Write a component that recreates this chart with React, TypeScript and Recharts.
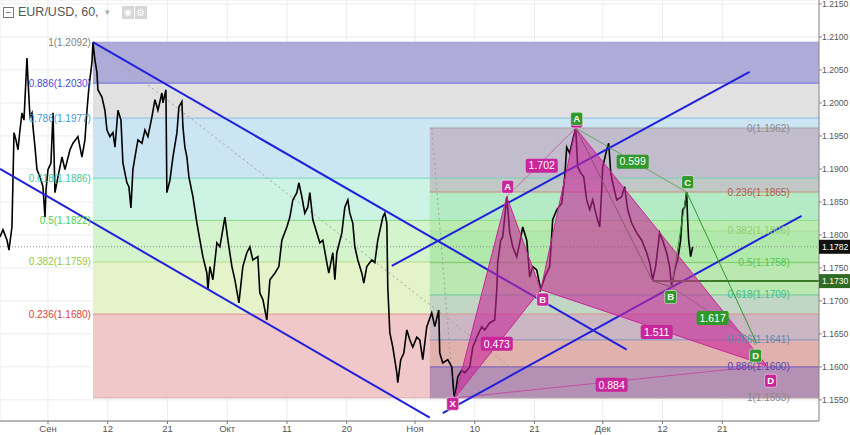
import React from 'react';
import { ComposedChart, Line, Area, XAxis, YAxis, CartesianGrid } from 'recharts';

// x = trading days since 1 Sep, y = EUR/USD price
const X_DOMAIN: [number, number] = [-5.62, 90.33];
const Y_DOMAIN: [number, number] = [1.1518, 1.2156];
const X_TICKS = [0, 7, 14, 21, 28, 35, 43, 50, 57, 65, 72, 79];
const X_LABELS = ['Сен', '12', '21', 'Окт', '11', '20', 'Ноя', '10', '21', 'Дек', '12', '21'];
const Y_TICKS = [1.155, 1.16, 1.165, 1.17, 1.175, 1.18, 1.185, 1.19, 1.195, 1.2, 1.205, 1.21, 1.215];

// hourly close path at its swings
const PRICE: [number, number][] = [
  [-5.62, 1.1797], [-5.27, 1.1808], [-4.8, 1.1792], [-4.57, 1.1777], [-4.22, 1.1812], [-4.1, 1.1883],
  [-3.98, 1.1955], [-3.75, 1.1944], [-3.51, 1.1929], [-3.28, 1.1959], [-3.04, 1.1985], [-2.81, 1.1974],
  [-2.46, 1.2068], [-2.34, 1.2035], [-2.11, 1.1979], [-1.87, 1.1985], [-1.76, 1.1964], [-1.52, 1.1933],
  [-1.29, 1.1899], [-0.94, 1.1888], [-0.59, 1.1873], [-0.35, 1.1827], [-0.23, 1.1868], [0, 1.1899],
  [0.35, 1.1909], [0.59, 1.1985], [0.82, 1.1864], [1.17, 1.1888], [1.64, 1.1918], [1.99, 1.1899],
  [2.58, 1.1929], [2.93, 1.1939], [3.51, 1.1949], [3.98, 1.1918], [4.33, 1.1944], [4.57, 1.1989],
  [4.8, 1.2024], [5.15, 1.2061], [5.27, 1.2092], [5.5, 1.2065], [5.74, 1.2046], [5.85, 1.202],
  [6.32, 1.2009], [6.67, 1.1989], [6.91, 1.1959], [7.26, 1.1949], [7.61, 1.1955], [7.85, 1.1933],
  [8.2, 1.1989], [8.55, 1.1974], [8.78, 1.1909], [9.25, 1.1879], [9.48, 1.1873], [9.72, 1.1841],
  [9.95, 1.1899], [10.19, 1.1918], [10.54, 1.1944], [11.01, 1.1939], [11.36, 1.1959], [11.71, 1.1949],
  [12.18, 1.1979], [12.53, 1.2005], [12.88, 1.1989], [13.35, 1.2015], [13.47, 1.2], [13.82, 1.202],
  [13.93, 1.1864], [14.29, 1.1883], [14.64, 1.1918], [15.11, 1.1955], [15.34, 1.1994], [15.69, 1.2002],
  [15.81, 1.1964], [16.04, 1.1933], [16.28, 1.1918], [16.51, 1.1888], [16.98, 1.1858], [17.45, 1.1818],
  [17.8, 1.1792], [18.15, 1.1767], [18.62, 1.1742], [18.74, 1.1717], [18.97, 1.1752], [19.32, 1.1732],
  [19.79, 1.1788], [20.14, 1.1782], [20.73, 1.1827], [21.08, 1.1792], [21.55, 1.1752], [21.9, 1.1732],
  [22.37, 1.1697], [22.83, 1.1752], [23.3, 1.1773], [23.65, 1.1782], [24.0, 1.1762], [24.59, 1.1767],
  [24.82, 1.1712], [25.18, 1.1702], [25.64, 1.1671], [26.0, 1.1732], [26.58, 1.1742], [27.05, 1.1752],
  [27.4, 1.1792], [27.99, 1.1812], [28.34, 1.1827], [28.69, 1.1853], [29.16, 1.1864], [29.39, 1.1879],
  [29.74, 1.1858], [30.09, 1.1833], [30.44, 1.1842], [30.68, 1.1864], [31.03, 1.1823], [31.5, 1.1803],
  [31.85, 1.1788], [32.2, 1.1792], [32.67, 1.1758], [32.9, 1.1742], [33.37, 1.1773], [33.61, 1.1732],
  [33.84, 1.1773], [34.43, 1.1803], [34.78, 1.1842], [35.13, 1.1853], [35.36, 1.1833], [35.71, 1.1818],
  [35.95, 1.1782], [36.3, 1.1762], [36.77, 1.1742], [37.0, 1.1727], [37.35, 1.1752], [37.94, 1.1762],
  [38.29, 1.1758], [38.64, 1.1792], [39.23, 1.1827], [39.46, 1.1833], [39.7, 1.1818], [39.81, 1.1721],
  [40.05, 1.1652], [40.4, 1.163], [40.87, 1.1591], [40.98, 1.1576], [41.33, 1.1611], [41.69, 1.1621],
  [42.04, 1.1656], [42.39, 1.1641], [42.74, 1.163], [43.21, 1.1645], [43.56, 1.1641], [43.91, 1.1611],
  [44.38, 1.1661], [44.96, 1.1682], [45.32, 1.1661], [45.78, 1.1686], [45.9, 1.1621], [46.25, 1.1606],
  [46.84, 1.1611], [47.31, 1.16], [47.54, 1.1561], [47.66, 1.1553], [48.01, 1.1585], [48.48, 1.1595],
  [48.83, 1.1591], [49.41, 1.16], [49.77, 1.163], [50.23, 1.1645], [50.82, 1.1661], [51.17, 1.1656],
  [51.76, 1.1667], [52.34, 1.1671], [52.58, 1.1717], [52.69, 1.1758], [53.04, 1.1792], [53.28, 1.1797],
  [53.63, 1.1842], [53.75, 1.1858], [54.1, 1.1803], [54.45, 1.1782], [54.92, 1.1767], [55.27, 1.1788],
  [55.62, 1.1812], [56.09, 1.1792], [56.44, 1.1736], [56.79, 1.1752], [57.26, 1.1747], [57.73, 1.1717],
  [58.2, 1.1736], [58.78, 1.1752], [59.13, 1.1823], [59.6, 1.1838], [60.19, 1.1848], [60.54, 1.1888],
  [60.77, 1.1933], [61.12, 1.1924], [61.48, 1.1944], [61.83, 1.1962], [62.06, 1.1903], [62.41, 1.1894],
  [62.76, 1.1888], [63.11, 1.1853], [63.47, 1.1838], [63.82, 1.1853], [64.29, 1.1827], [64.64, 1.1812],
  [64.87, 1.1868], [64.99, 1.1903], [65.46, 1.1929], [65.69, 1.1939], [65.93, 1.1894], [66.16, 1.1879],
  [66.63, 1.1853], [67.21, 1.1858], [67.56, 1.1873], [67.92, 1.1838], [68.38, 1.1818], [68.97, 1.1803],
  [69.56, 1.1792], [70.14, 1.1773], [70.49, 1.1758], [70.84, 1.1732], [71.19, 1.1752], [71.66, 1.1803],
  [72.01, 1.1792], [72.48, 1.1773], [72.83, 1.1752], [73.07, 1.1721], [73.42, 1.1747], [73.77, 1.1762],
  [74.12, 1.1792], [74.36, 1.1838], [74.59, 1.1842], [74.82, 1.1865], [74.94, 1.1823], [75.06, 1.1792],
  [75.29, 1.1767], [75.53, 1.1782],
];

const LAST_PRICE = 1.1782;
const SUPPORT_PRICE = 1.173;
const SUPPORT_START = 70.84;

// Fib retracement 1: 1.2092 high down to 1.1553 low
const FIB1_START = 5.27;
const FIB1_LEVELS = [1.2092, 1.203, 1.1977, 1.1886, 1.1822, 1.1759, 1.168, 1.1553];
const FIB1_RATIOS = ['1', '0.886', '0.786', '0.618', '0.5', '0.382', '0.236', ''];

// Fib retracement 2: 1.1962 high down to 1.1553 low
const FIB2_START = 44.73;
const FIB2_LABEL_AT = 86.9;
const FIB2_LEVELS = [1.1962, 1.1865, 1.1806, 1.1758, 1.1709, 1.1641, 1.16, 1.1553];
const FIB2_RATIOS = ['0', '0.236', '0.382', '0.5', '0.618', '0.786', '0.886', '1'];

// channel lines [x1, y1, x2, y2]
const TRENDS: [number, number, number, number][] = [
  [5.27, 1.2092, 67.8, 1.1626],
  [-5.62, 1.19, 44.73, 1.1523],
  [40.28, 1.1753, 82.2, 1.2047],
  [46.25, 1.153, 88.29, 1.1829],
];
const GUIDES: [number, number, number, number][] = [
  [5.27, 1.2092, 58.78, 1.1553],
  [44.96, 1.1962, 47.54, 1.1553],
];

// XABCD pattern (pink); the C tag sits under the green A tag
const XABCD_NAMES = ['X', 'A', 'B', '', 'D'];
const XABCD_X = [47.66, 53.75, 57.73, 61.83, 84.19];
const XABCD_Y = [1.1553, 1.1858, 1.1717, 1.1962, 1.1602];
const XABCD_TAG_X = [47.42, 53.86, 57.96, 61.94, 84.66];
const XABCD_TAG_Y = [1.1544, 1.1873, 1.1702, 1.1972, 1.1579];
const XABCD_RATIOS = ['1.702', '0.473', '1.511', '0.884'];
const XABCD_RATIO_X = [57.85, 52.58, 71.31, 66.04];
const XABCD_RATIO_Y = [1.1905, 1.1635, 1.1653, 1.1573];

// ABCD pattern (green)
const ABCD_NAMES = ['A', 'B', 'C', 'D'];
const ABCD_X = [61.83, 73.07, 74.82, 83.02];
const ABCD_Y = [1.1962, 1.1721, 1.1865, 1.1636];
const ABCD_TAG_X = [61.94, 72.95, 74.94, 82.9];
const ABCD_TAG_Y = [1.1976, 1.1706, 1.188, 1.1617];
const ABCD_RATIOS = ['0.599', '1.617'];
const ABCD_RATIO_X = [68.5, 77.87];
const ABCD_RATIO_Y = [1.1911, 1.1674];

// styles
const FONT = '"Liberation Sans", Arial, sans-serif';
const FIB1_FILLS = ['#afabd9', '#e1e1e1', '#cce5f2', '#cdf3e5', '#d3f4cc', '#e5f3cb', '#f1c8c9'];
const FIB1_LINES = ['#a09cd4', '#6a66dc', '#86c2e6', '#76d6b6', '#86dc86', '#b4dc86', '#e0928c', '#d8b0b0'];
const FIB1_TEXT = ['#7f7f7f', '#4a46d8', '#3c98da', '#42c89a', '#4cd24c', '#98c83a', '#d9423a', '#999'];
const FIB2_FILLS = [
  'rgba(170,110,130,0.33)', 'rgba(110,210,100,0.25)', 'rgba(90,205,90,0.28)', 'rgba(80,200,110,0.28)',
  'rgba(100,140,180,0.28)', 'rgba(180,120,100,0.28)', 'rgba(90,60,150,0.40)',
];
const FIB2_LINES = ['#a8a0a8', '#c89080', '#a8dc98', '#78cc78', '#6cc8a0', '#7c98c0', '#7058c0', '#a898a8'];
const FIB2_TEXT = ['#8a8a8a', '#b06050', '#8ed070', '#50c850', '#40c090', '#6088b0', '#5a40b0', '#8a8a8a'];
const BLUE = '#2020dc';
const PINK = '#c8269a';
const GREEN = '#2f9a2a';

type Pt = { d: number; p: number; t?: string; k?: string; c?: string };

const seg = (s: [number, number, number, number]): Pt[] => [
  { d: s[0], p: s[1] },
  { d: s[2], p: s[3] },
];

const polygonDot = (fill: string, opacity: number) => (props: any) => {
  const { index, points } = props;
  if (index !== 0 || !points) return <g key={`pg-${index}`} />;
  return (
    <polygon
      key="pg"
      points={points.map((q: any) => `${q.x},${q.y}`).join(' ')}
      fill={fill}
      fillOpacity={opacity}
      stroke={fill}
      strokeWidth={1}
    />
  );
};

const renderLabel = (props: any) => {
  const { cx, cy, payload, index } = props;
  const key = `lb-${index}`;
  if (cx == null || cy == null) return <g key={key} />;
  const { t, k, c } = payload as Pt;
  if (k === 'fib1') {
    return (
      <text key={key} x={cx - 2} y={cy + 3.5} textAnchor="end" fontSize={10} fill={c} fontFamily={FONT}>
        {t}
      </text>
    );
  }
  if (k === 'fib2') {
    return (
      <text key={key} x={cx} y={cy + 3.5} textAnchor="end" fontSize={10} fill={c} fontFamily={FONT}>
        {t}
      </text>
    );
  }
  if (k === 'tag') {
    return (
      <g key={key}>
        <rect x={cx - 6} y={cy - 6.5} width={12} height={13} rx={2} fill={c} stroke="#fff" strokeOpacity={0.5} />
        {t ? (
          <text x={cx} y={cy + 3.5} textAnchor="middle" fontSize={9.5} fontWeight="bold" fill="#fff" fontFamily={FONT}>
            {t}
          </text>
        ) : null}
      </g>
    );
  }
  if (k === 'ratio') {
    return (
      <g key={key}>
        <rect x={cx - 16} y={cy - 7} width={32} height={14} rx={2} fill={c} />
        <text x={cx} y={cy + 3.8} textAnchor="middle" fontSize={10.5} fill="#fff" fontFamily={FONT}>
          {t}
        </text>
      </g>
    );
  }
  // price badge on the axis
  return (
    <g key={key}>
      <rect x={cx} y={cy - 7} width={31} height={14} fill={c} />
      <text x={cx + 3} y={cy + 3.2} fontSize={8.6} fill="#fff" fontFamily={FONT}>
        {t}
      </text>
    </g>
  );
};

const XTick = (props: any) => {
  const { x, y, payload } = props;
  const i = X_TICKS.indexOf(payload.value);
  return (
    <text x={x} y={y + 8} textAnchor="middle" fontSize={9.5} fill="#555" fontFamily={FONT}>
      {X_LABELS[i]}
    </text>
  );
};

const YTick = (props: any) => {
  const { x, y, payload } = props;
  return (
    <text x={x} y={y + 3.2} fontSize={8.6} fill="#555" fontFamily={FONT}>
      {Number(payload.value).toFixed(4)}
    </text>
  );
};

export default function App() {
  const xMax = X_DOMAIN[1];
  const price: Pt[] = PRICE.map(([d, p]) => ({ d, p }));

  const fib1Bands = FIB1_FILLS.map((fill, i) => ({
    fill,
    data: [
      { d: FIB1_START, r: [FIB1_LEVELS[i + 1], FIB1_LEVELS[i]] },
      { d: xMax, r: [FIB1_LEVELS[i + 1], FIB1_LEVELS[i]] },
    ],
  }));
  const fib2Bands = FIB2_FILLS.map((fill, i) => ({
    fill,
    data: [
      { d: FIB2_START, r: [FIB2_LEVELS[i + 1], FIB2_LEVELS[i]] },
      { d: xMax, r: [FIB2_LEVELS[i + 1], FIB2_LEVELS[i]] },
    ],
  }));

  const pinkPts: Pt[] = XABCD_X.map((d, i) => ({ d, p: XABCD_Y[i] }));
  const [pX, pA, pB, pC, pD] = pinkPts;
  const greenPts: Pt[] = ABCD_X.map((d, i) => ({ d, p: ABCD_Y[i] }));
  const [gA, gB, gC, gD] = greenPts;
  const greenLegLow: Pt = { d: SUPPORT_START, p: SUPPORT_PRICE };

  const labels: Pt[] = [
    ...FIB1_LEVELS.map((lv, i) => ({
      d: FIB1_START,
      p: lv,
      t: FIB1_RATIOS[i] ? `${FIB1_RATIOS[i]}(${lv.toFixed(4)})` : '',
      k: 'fib1',
      c: FIB1_TEXT[i],
    })),
    ...FIB2_LEVELS.map((lv, i) => ({
      d: FIB2_LABEL_AT,
      p: lv,
      t: `${FIB2_RATIOS[i]}(${lv.toFixed(4)})`,
      k: 'fib2',
      c: FIB2_TEXT[i],
    })),
    ...XABCD_RATIOS.map((t, i) => ({ d: XABCD_RATIO_X[i], p: XABCD_RATIO_Y[i], t, k: 'ratio', c: PINK })),
    ...ABCD_RATIOS.map((t, i) => ({ d: ABCD_RATIO_X[i], p: ABCD_RATIO_Y[i], t, k: 'ratio', c: GREEN })),
    ...XABCD_NAMES.map((t, i) => ({ d: XABCD_TAG_X[i], p: XABCD_TAG_Y[i], t, k: 'tag', c: PINK })),
    ...ABCD_NAMES.map((t, i) => ({ d: ABCD_TAG_X[i], p: ABCD_TAG_Y[i], t, k: 'tag', c: GREEN })),
    { d: xMax, p: LAST_PRICE, t: LAST_PRICE.toFixed(4), k: 'badge', c: '#111' },
    { d: xMax, p: SUPPORT_PRICE, t: SUPPORT_PRICE.toFixed(4), k: 'badge', c: '#2f6b22' },
  ];

  const common = { isAnimationActive: false, activeDot: false, legendType: 'none' as const };

  return (
    <div style={{ position: 'absolute', left: 0, top: 0, width: 850, height: 435, background: '#fff', fontFamily: FONT }}>
      <ComposedChart width={850} height={435} margin={{ top: 0, right: 0, bottom: 0, left: 0 }}>
        <CartesianGrid stroke="#ececec" />
        <XAxis
          type="number"
          dataKey="d"
          domain={X_DOMAIN}
          ticks={X_TICKS}
          interval={0}
          height={14}
          tickSize={3}
          tickMargin={0}
          tick={XTick}
          stroke="#777"
        />
        <YAxis
          type="number"
          orientation="right"
          domain={Y_DOMAIN}
          ticks={Y_TICKS}
          interval={0}
          width={31}
          tickSize={3}
          tickMargin={0}
          tick={YTick}
          stroke="#888"
        />

        {fib1Bands.map((b, i) => (
          <Area key={`f1b${i}`} data={b.data} dataKey="r" type="linear" stroke="none" fill={b.fill} fillOpacity={1} dot={false} {...common} />
        ))}
        {fib2Bands.map((b, i) => (
          <Area key={`f2b${i}`} data={b.data} dataKey="r" type="linear" stroke="none" fill={b.fill} fillOpacity={1} dot={false} {...common} />
        ))}

        {FIB1_LEVELS.map((lv, i) => (
          <Line key={`f1l${i}`} data={[{ d: FIB1_START, p: lv }, { d: xMax, p: lv }]} dataKey="p" stroke={FIB1_LINES[i]} strokeWidth={1} dot={false} {...common} />
        ))}
        {FIB2_LEVELS.map((lv, i) => (
          <Line key={`f2l${i}`} data={[{ d: FIB2_START, p: lv }, { d: xMax, p: lv }]} dataKey="p" stroke={FIB2_LINES[i]} strokeWidth={1} dot={false} {...common} />
        ))}

        <Line data={[{ d: X_DOMAIN[0], p: LAST_PRICE }, { d: xMax, p: LAST_PRICE }]} dataKey="p" stroke="#8a8a8a" strokeDasharray="1 2" strokeWidth={1} dot={false} {...common} />

        {GUIDES.map((g, i) => (
          <Line key={`g${i}`} data={seg(g)} dataKey="p" stroke="#a0a0a0" strokeDasharray="2 3" strokeWidth={1} dot={false} {...common} />
        ))}

        {/* pink harmonic triangles */}
        <Line data={[pX, pA, pB]} dataKey="p" stroke="none" dot={polygonDot(PINK, 0.6)} {...common} />
        <Line data={[pB, pC, pD]} dataKey="p" stroke="none" dot={polygonDot(PINK, 0.6)} {...common} />

        <Line data={price} dataKey="p" stroke="#000" strokeWidth={1.6} dot={false} {...common} />

        {/* pink ratio lines */}
        <Line data={[pA, pC]} dataKey="p" stroke={PINK} strokeOpacity={0.6} strokeWidth={1} dot={false} {...common} />
        <Line data={[pX, pD]} dataKey="p" stroke={PINK} strokeOpacity={0.6} strokeWidth={1} dot={false} {...common} />

        {TRENDS.map((s, i) => (
          <Line key={`t${i}`} data={seg(s)} dataKey="p" stroke={BLUE} strokeWidth={2} dot={false} {...common} />
        ))}

        {/* green ABCD */}
        <Line data={[gA, greenLegLow, gB, gC, gD]} dataKey="p" stroke={GREEN} strokeWidth={1} dot={false} {...common} />
        <Line data={[gA, gC]} dataKey="p" stroke="#5c9a50" strokeOpacity={0.8} strokeWidth={1} dot={false} {...common} />
        <Line data={[gB, gD]} dataKey="p" stroke="#5c9a50" strokeOpacity={0.8} strokeWidth={1} dot={false} {...common} />
        <Line data={[greenLegLow, { d: xMax, p: SUPPORT_PRICE }]} dataKey="p" stroke="#3d7a2c" strokeWidth={2} dot={false} {...common} />

        <Line data={labels} dataKey="p" stroke="none" dot={renderLabel} {...common} />
      </ComposedChart>

      <div style={{ position: 'absolute', left: 3, top: 5, display: 'flex', alignItems: 'center', color: '#555', fontSize: 12.5 }}>
        <span
          style={{
            width: 9,
            height: 9,
            border: '1px solid #777',
            display: 'inline-flex',
            alignItems: 'center',
            justifyContent: 'center',
            fontSize: 10,
            lineHeight: '9px',
            marginRight: 4,
          }}
        >
          −
        </span>
        <span>EUR/USD, 60,</span>
        <span style={{ fontSize: 9, color: '#aaa', marginLeft: 6 }}>▾</span>
        <span style={{ width: 12, height: 13, background: '#d6d6d6', marginLeft: 12, color: '#fff', fontSize: 9, textAlign: 'center', lineHeight: '13px' }}>◉</span>
        <span style={{ width: 12, height: 13, background: '#d6d6d6', marginLeft: 1, color: '#fff', fontSize: 10, textAlign: 'center', lineHeight: '13px' }}>⚙</span>
      </div>
    </div>
  );
}
